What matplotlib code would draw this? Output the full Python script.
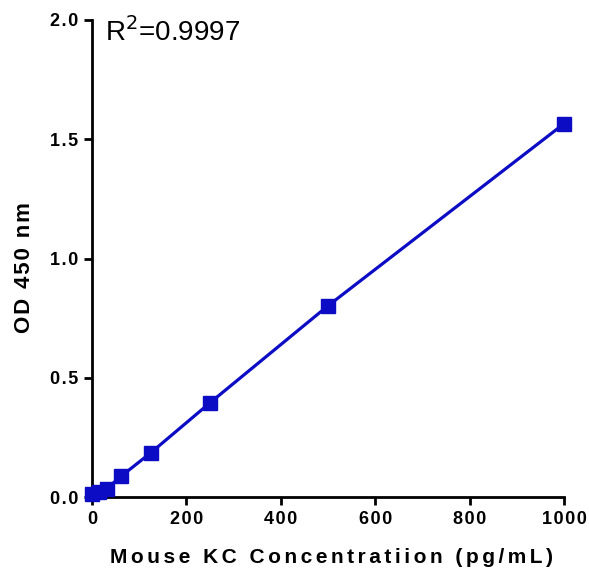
import matplotlib.pyplot as plt

# standard curve data
conc = [0, 15.6, 31.25, 62.5, 125, 250, 500, 1000]
od450 = [0.012, 0.020, 0.035, 0.088, 0.186, 0.395, 0.802, 1.566]
x_ticks = [0, 200, 400, 600, 800, 1000]
y_ticks = [0.0, 0.5, 1.0, 1.5, 2.0]

plt.rcParams['font.family'] = ['Liberation Sans', 'DejaVu Sans']


def spaced(s, gap="\u200a"):
    # mimic the wide letter tracking of the original labels
    return gap.join(s)


fig = plt.figure(figsize=(5.89, 5.73), dpi=100)
ax = fig.add_axes([0.156, 0.1326, 0.802, 0.8325])

ax.plot(conc, od450, color='#0c0cc4', linewidth=2.3, marker='s',
        markersize=10, markerfacecolor='#0c0cc4', markeredgecolor='#0c0cc4',
        clip_on=False, zorder=3)

ax.set_xlim(0, 1000)
ax.set_ylim(0, 2.0)
ax.set_xticks(x_ticks)
ax.set_xticklabels([spaced(str(v)) for v in x_ticks])
ax.set_yticks(y_ticks)
ax.set_yticklabels([spaced(f"{v:.1f}") for v in y_ticks])

for s in ['top', 'right']:
    ax.spines[s].set_visible(False)
for s in ['left', 'bottom']:
    ax.spines[s].set_linewidth(2)
ax.tick_params(width=2, length=6, labelsize=13, pad=4)
for lab in ax.get_xticklabels() + ax.get_yticklabels():
    lab.set_fontweight('bold')

ax.set_xlabel(spaced("Mouse KC Concentratiion (pg/mL)", "\u2006"), fontsize=15,
              fontweight='bold', va='center')
ax.xaxis.set_label_coords(0.508, -0.126)
ax.set_ylabel(spaced("OD 450 nm"), fontsize=16, fontweight='bold', va='center')
ax.yaxis.set_label_coords(-0.142, 0.482)

ax.text(0.027, 1.006, "R$^2$=0.9997", transform=ax.transAxes, fontsize=20,
        ha='left', va='top')

fig.savefig("out.png", dpi=100)
